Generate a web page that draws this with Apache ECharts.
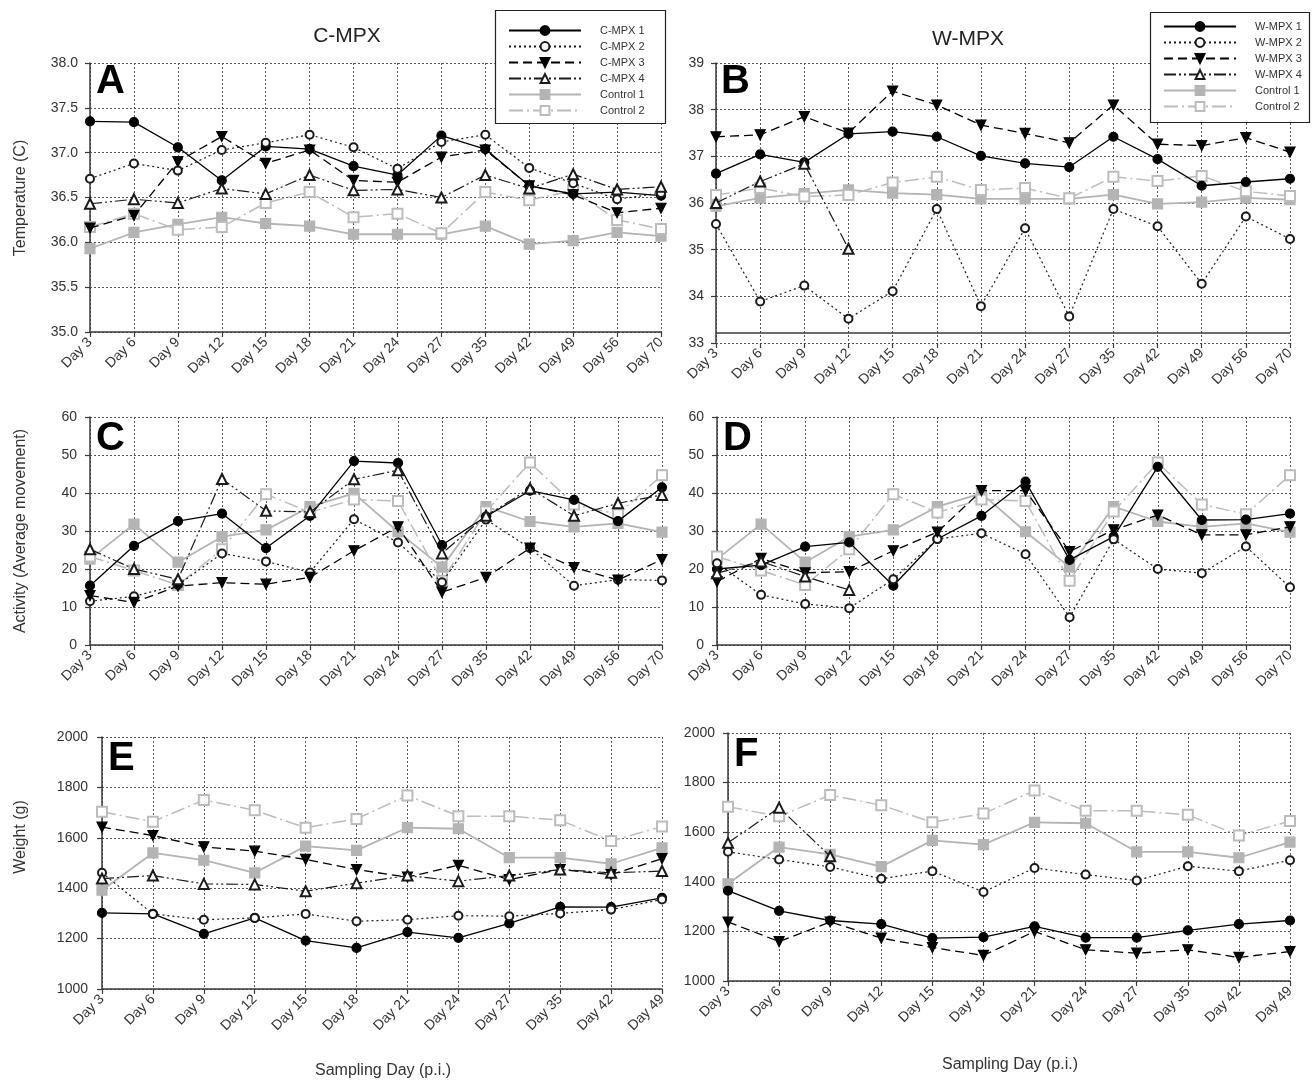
<!DOCTYPE html>
<html>
<head>
<meta charset="utf-8">
<script src="https://cdn.jsdelivr.net/npm/echarts@6/dist/echarts.min.js"></script>
<style>
html,body{margin:0;padding:0;background:#fff;}
#chart{width:1312px;height:1085px;}
</style>
</head>
<body>
<div id="chart"></div>
<script>
// ---------- categories / ticks ----------
const daysLong = ['Day 3','Day 6','Day 9','Day 12','Day 15','Day 18','Day 21','Day 24','Day 27','Day 35','Day 42','Day 49','Day 56','Day 70'];
const daysShort = ['Day 3','Day 6','Day 9','Day 12','Day 15','Day 18','Day 21','Day 24','Day 27','Day 35','Day 42','Day 49'];
const legendC = ['C-MPX 1','C-MPX 2','C-MPX 3','C-MPX 4','Control 1','Control 2'];
const legendW = ['W-MPX 1','W-MPX 2','W-MPX 3','W-MPX 4','Control 1','Control 2'];

// ---------- Temperature (A: C-MPX, B: W-MPX) ----------
const tempCMPX1 = [37.35,37.34,37.06,36.69,37.07,37.04,36.85,36.75,37.19,37.04,36.63,36.54,36.56,36.52];
const tempCMPX2 = [36.71,36.88,36.80,37.03,37.11,37.20,37.06,36.82,37.12,37.20,36.83,36.66,36.48,36.55];
const tempCMPX3 = [36.16,36.30,36.90,37.18,36.88,37.03,36.69,36.67,36.95,37.03,36.63,36.53,36.33,36.38];
const tempCMPX4 = [36.43,36.48,36.44,36.60,36.54,36.75,36.58,36.59,36.50,36.75,36.60,36.76,36.59,36.62];
const tempWMPX1 = [36.63,37.04,36.87,37.48,37.53,37.42,37.01,36.85,36.77,37.42,36.94,36.37,36.45,36.52];
const tempWMPX2 = [35.55,33.89,34.23,33.52,34.11,35.87,33.79,35.46,33.57,35.87,35.50,34.27,35.71,35.23];
const tempWMPX3 = [37.42,37.46,37.85,37.50,38.40,38.10,37.67,37.49,37.29,38.10,37.26,37.23,37.40,37.09];
const tempWMPX4 = [36.00,36.46,36.84,35.02,null,null,null,null,null,null,null,null,null,null];
const tempControl1 = [35.93,36.11,36.20,36.28,36.21,36.18,36.09,36.09,36.09,36.18,35.98,36.02,36.11,36.07];
const tempControl2 = [36.17,36.32,36.14,36.17,36.44,36.56,36.28,36.32,36.10,36.56,36.47,36.58,36.25,36.15];

// ---------- Activity (C: C-MPX, D: W-MPX) ----------
const actCMPX1 = [15.6,26.1,32.6,34.6,25.5,34.0,48.4,47.9,26.3,33.8,40.6,38.2,32.6,41.5];
const actCMPX2 = [11.5,12.8,15.8,24.1,22.0,19.1,33.1,27.0,16.5,33.0,25.5,15.6,17.2,17.0];
const actCMPX3 = [13.0,11.2,15.5,16.4,16.0,17.8,24.8,31.1,13.9,17.8,25.5,20.4,17.1,22.5];
const actCMPX4 = [25.2,20.0,17.3,43.7,35.3,35.0,43.6,46.0,24.1,34.0,41.2,34.0,37.3,39.5];
const actWMPX1 = [20.0,21.0,25.9,27.0,15.6,27.9,34.0,43.0,22.4,28.5,46.9,32.9,33.0,34.6];
const actWMPX2 = [21.5,13.2,10.8,9.7,17.3,27.9,29.4,23.9,7.3,27.8,20.0,18.9,25.9,15.2];
const actWMPX3 = [16.7,22.8,19.0,19.3,24.8,29.7,40.6,40.6,24.6,30.3,34.2,29.0,29.0,31.1];
const actWMPX4 = [18.9,22.0,18.0,14.5,null,null,null,null,null,null,null,null,null,null];
const actControl1 = [22.6,31.8,21.8,28.5,30.3,36.4,39.9,29.8,20.5,36.4,32.5,31.1,32.0,29.7];
const actControl2 = [23.3,19.6,15.8,25.2,39.7,34.9,38.3,37.9,16.9,35.1,48.0,37.0,34.4,44.7];

// ---------- Weight (E: C-MPX, F: W-MPX) ----------
const wtCMPX1 = [1302,1298,1219,1282,1192,1163,1226,1203,1260,1326,1325,1362];
const wtCMPX2 = [1461,1298,1275,1282,1298,1269,1275,1291,1289,1300,1315,1355];
const wtCMPX3 = [1642,1609,1564,1547,1514,1474,1444,1491,1434,1474,1454,1517];
const wtCMPX4 = [1438,1450,1417,1415,1388,1420,1450,1428,1450,1474,1461,1468];
const wtWMPX1 = [1364,1283,1244,1229,1173,1177,1220,1175,1175,1204,1229,1244];
const wtWMPX2 = [1521,1490,1460,1412,1443,1359,1456,1429,1405,1463,1443,1487];
const wtWMPX3 = [1238,1159,1238,1173,1135,1103,1200,1126,1112,1126,1095,1119];
const wtWMPX4 = [1557,1699,1503,null,null,null,null,null,null,null,null,null];
const wtControl1 = [1392,1540,1511,1461,1567,1550,1640,1636,1521,1521,1497,1560];
const wtControl2 = [1703,1664,1750,1709,1640,1675,1768,1686,1686,1670,1587,1645];

// ---------- styles ----------
const FONT = 'Liberation Sans, Arial, sans-serif';
const AX = '#3a3a3a';
const downTri = 'path://M0,0 L10,0 L5,9 Z';
const styles = [
  {color:'#000', symbol:'circle', size:9, line:'solid', width:1.3},
  {color:'#1a1a1a', symbol:'emptyCircle', size:8, line:[2,3], width:1.2},
  {color:'#000', symbol:downTri, size:10, line:[9,5], width:1.3},
  {color:'#1a1a1a', symbol:'emptyTriangle', size:10, line:[12,3,2,3,2,3], width:1.2},
  {color:'#b4b4b4', symbol:'rect', size:10, line:'solid', width:1.8},
  {color:'#bcbcbc', symbol:'emptyRect', size:10, line:[14,4,2,4], width:1.5}
];

const panels = [
  {grid:{left:90, top:63, width:571, height:269}, cats:daysLong, min:35, max:38, interval:0.5, dec:1, names:legendC,
   data:[tempCMPX1,tempCMPX2,tempCMPX3,tempCMPX4,tempControl1,tempControl2], labelMargin:12},
  {grid:{left:716, top:63, width:574, height:280}, cats:daysLong, min:33, max:39, interval:1, dec:0, names:legendW,
   data:[tempWMPX1,tempWMPX2,tempWMPX3,tempWMPX4,tempControl1,tempControl2], labelMargin:12, raisedAxis:33.22},
  {grid:{left:90, top:417, width:572, height:228}, cats:daysLong, min:0, max:60, interval:10, dec:0, names:legendC,
   data:[actCMPX1,actCMPX2,actCMPX3,actCMPX4,actControl1,actControl2], labelMargin:13},
  {grid:{left:717, top:417, width:573, height:228}, cats:daysLong, min:0, max:60, interval:10, dec:0, names:legendW,
   data:[actWMPX1,actWMPX2,actWMPX3,actWMPX4,actControl1,actControl2], labelMargin:13},
  {grid:{left:102, top:737, width:560, height:252}, cats:daysShort, min:1000, max:2000, interval:200, dec:0, names:legendC,
   data:[wtCMPX1,wtCMPX2,wtCMPX3,wtCMPX4,wtControl1,wtControl2], labelMargin:14},
  {grid:{left:728, top:733, width:562, height:248}, cats:daysShort, min:1000, max:2000, interval:200, dec:0, names:legendW,
   data:[wtWMPX1,wtWMPX2,wtWMPX3,wtWMPX4,wtControl1,wtControl2], labelMargin:13}
];

const grids = [], xAxes = [], yAxes = [], series = [];
panels.forEach((p, i) => {
  grids.push(Object.assign({containLabel:false}, p.grid));
  xAxes.push({
    type:'category', gridIndex:i, data:p.cats, boundaryGap:false,
    axisLine:{show:!p.raisedAxis, lineStyle:{color:AX, width:1.5}},
    axisTick:{show:true, length:5, alignWithLabel:true, lineStyle:{color:AX, width:1.2}},
    axisLabel:{interval:0, rotate:45, fontSize:14, color:'#333', fontFamily:FONT, margin:8},
    splitLine:{show:true, lineStyle:{type:[2,2], color:'#555', width:1}}
  });
  yAxes.push({
    type:'value', gridIndex:i, min:p.min, max:p.max, interval:p.interval,
    axisLine:{show:true, lineStyle:{color:AX, width:1.5}},
    axisTick:{show:true, length:5, lineStyle:{color:AX, width:1.2}},
    axisLabel:{fontSize:14, color:'#333', fontFamily:FONT, margin:p.labelMargin,
      formatter: v => v.toFixed(p.dec)},
    splitLine:{show:true, lineStyle:{type:[2,2], color:'#555', width:1}}
  });
  p.data.forEach((d, k) => {
    const st = styles[k];
    const s = {
      type:'line', name:p.names[k], data:d, xAxisIndex:i, yAxisIndex:i,
      symbol:st.symbol, symbolSize:st.size, connectNulls:false,
      lineStyle:{color:st.color, type:st.line, width:st.width},
      itemStyle:{color:st.color, borderColor:st.color, borderWidth:1.2},
      emphasis:{disabled:true},
      z: k >= 4 ? 2 : 3, animation:false
    };
    if (k === 0 && p.raisedAxis) {
      s.markLine = {silent:true, symbol:'none', label:{show:false}, animation:false,
        lineStyle:{color:AX, type:'solid', width:1.5}, data:[{yAxis:p.raisedAxis}]};
    }
    series.push(s);
  });
});

const legendCommon = {
  orient:'vertical', itemWidth:72, itemHeight:11, itemGap:5,
  textStyle:{fontSize:11, color:'#333', fontFamily:FONT, lineHeight:11, padding:[0,0,0,14]},
  selectedMode:false, inactiveColor:'#ccc'
};

const graphics = [
  {type:'rect', shape:{x:495.5, y:10.5, width:170, height:113}, style:{fill:'#fff', stroke:'#222', lineWidth:1.2}, z:50},
  {type:'rect', shape:{x:1150.5, y:12.5, width:159, height:110}, style:{fill:'#fff', stroke:'#222', lineWidth:1.2}, z:50},
  {type:'text', x:347, y:36, style:{text:'C-MPX', font:'21px '+FONT, fill:'#222', textAlign:'center', textVerticalAlign:'middle'}},
  {type:'text', x:968, y:39, style:{text:'W-MPX', font:'21px '+FONT, fill:'#222', textAlign:'center', textVerticalAlign:'middle'}},
  {type:'text', x:96, y:62, style:{text:'A', font:'bold 40px '+FONT, fill:'#000'}, z:60},
  {type:'text', x:721, y:62, style:{text:'B', font:'bold 40px '+FONT, fill:'#000'}, z:60},
  {type:'text', x:96, y:419, style:{text:'C', font:'bold 40px '+FONT, fill:'#000'}, z:60},
  {type:'text', x:723, y:419, style:{text:'D', font:'bold 40px '+FONT, fill:'#000'}, z:60},
  {type:'text', x:108, y:739, style:{text:'E', font:'bold 40px '+FONT, fill:'#000'}, z:60},
  {type:'text', x:734, y:735, style:{text:'F', font:'bold 40px '+FONT, fill:'#000'}, z:60},
  {type:'text', x:21, y:198, rotation:Math.PI/2, style:{text:'Temperature (C)', font:'16px '+FONT, fill:'#333', textAlign:'center', textVerticalAlign:'middle'}},
  {type:'text', x:21, y:531, rotation:Math.PI/2, style:{text:'Activity (Average movement)', font:'16px '+FONT, fill:'#333', textAlign:'center', textVerticalAlign:'middle'}},
  {type:'text', x:21, y:837, rotation:Math.PI/2, style:{text:'Weight (g)', font:'16px '+FONT, fill:'#333', textAlign:'center', textVerticalAlign:'middle'}},
  {type:'text', x:383, y:1071, style:{text:'Sampling Day (p.i.)', font:'16px '+FONT, fill:'#333', textAlign:'center', textVerticalAlign:'middle'}},
  {type:'text', x:1010, y:1065, style:{text:'Sampling Day (p.i.)', font:'16px '+FONT, fill:'#333', textAlign:'center', textVerticalAlign:'middle'}}
];

const chart = echarts.init(document.getElementById('chart'), null, {renderer:'canvas'});
chart.setOption({
  backgroundColor:'#fff',
  animation:false,
  grid:grids, xAxis:xAxes, yAxis:yAxes, series:series,
  legend:[
    Object.assign({}, legendCommon, {left:503, top:20, data:legendC, zlevel:1}),
    Object.assign({}, legendCommon, {left:1158, top:16, data:legendW, zlevel:1})
  ],
  graphic:graphics
});
</script>
</body>
</html>
